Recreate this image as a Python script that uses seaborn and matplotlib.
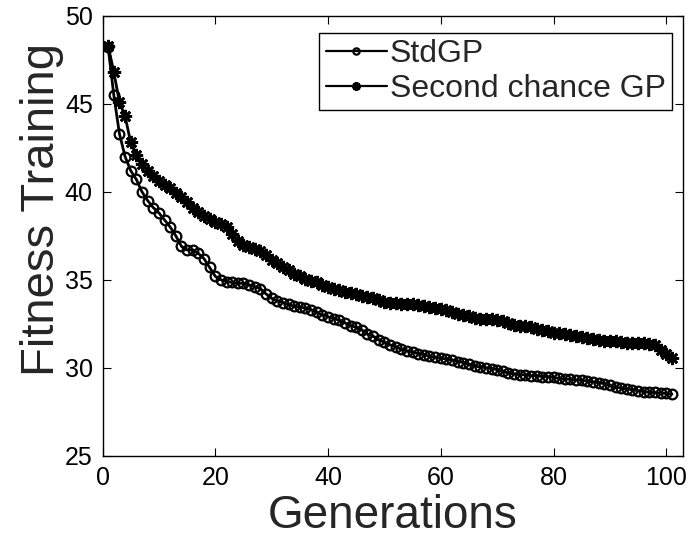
import matplotlib
matplotlib.use("Agg")
import matplotlib.pyplot as plt
import seaborn as sns
import pandas as pd

generations = list(range(1, 102))

std_gp = [
    48.2, 45.5, 43.3, 42.0, 41.2, 40.7, 40.0, 39.5, 39.1, 38.8,
    38.4, 38.0, 37.5, 36.9, 36.7, 36.7, 36.5, 36.2, 35.7, 35.2,
    35.0, 34.9, 34.85, 34.8, 34.8, 34.7, 34.6, 34.5, 34.2, 33.95,
    33.8, 33.7, 33.6, 33.5, 33.45, 33.4, 33.3, 33.15, 33.0, 32.9,
    32.8, 32.7, 32.55, 32.4, 32.3, 32.15, 31.9, 31.8, 31.6, 31.45,
    31.3, 31.2, 31.05, 30.95, 30.9, 30.8, 30.75, 30.65, 30.6, 30.55,
    30.5, 30.45, 30.35, 30.3, 30.2, 30.1, 30.05, 30.0, 29.95, 29.9,
    29.8, 29.7, 29.65, 29.6, 29.6, 29.55, 29.55, 29.5, 29.5, 29.45,
    29.4, 29.35, 29.35, 29.3, 29.3, 29.25, 29.2, 29.15, 29.1, 29.0,
    28.9, 28.85, 28.8, 28.75, 28.7, 28.65, 28.6, 28.6, 28.55, 28.55,
    28.5,
]

second_chance_gp = [
    48.3, 46.8, 45.1, 44.3, 42.8, 42.1, 41.6, 41.2, 40.9, 40.6,
    40.4, 40.2, 39.95, 39.7, 39.4, 39.1, 38.85, 38.6, 38.45, 38.3,
    38.15, 38.0, 37.6, 37.2, 36.95, 36.85, 36.75, 36.65, 36.4, 36.15,
    35.95, 35.75, 35.55, 35.35, 35.2, 35.05, 34.95, 34.85, 34.7, 34.6,
    34.5, 34.4, 34.3, 34.25, 34.2, 34.1, 34.0, 33.95, 33.85, 33.75,
    33.7, 33.7, 33.65, 33.65, 33.6, 33.55, 33.5, 33.45, 33.4, 33.35,
    33.3, 33.15, 33.05, 33.0, 32.95, 32.85, 32.8, 32.75, 32.75, 32.7,
    32.65, 32.55, 32.45, 32.4, 32.35, 32.3, 32.2, 32.15, 32.1, 32.0,
    31.95, 31.9, 31.85, 31.8, 31.75, 31.7, 31.65, 31.6, 31.55, 31.5,
    31.5, 31.45, 31.4, 31.4, 31.4, 31.4, 31.35, 31.3, 31.0, 30.8,
    30.55,
]

series_names = ["StdGP", "Second chance GP"]
x_ticks = [0, 20, 40, 60, 80, 100]
y_ticks = [25, 30, 35, 40, 45, 50]

sns.set_style("white")
plt.rcParams["font.family"] = ["Liberation Sans", "DejaVu Sans"]

fig = plt.figure(figsize=(6.88, 5.42), dpi=100)
ax = fig.add_axes([0.149, 0.159, 0.844, 0.812])

df_std = pd.DataFrame({"Generations": generations, "Fitness": std_gp})
df_sc = pd.DataFrame({"Generations": generations, "Fitness": second_chance_gp})

sns.lineplot(data=df_std, x="Generations", y="Fitness", ax=ax, color="black",
             linewidth=2.0, marker="o", markersize=7, markerfacecolor="none",
             markeredgecolor="black", markeredgewidth=1.6, label=series_names[0])
sns.lineplot(data=df_sc, x="Generations", y="Fitness", ax=ax, color="black",
             linewidth=2.0, marker=(8, 2, 0), markersize=9.5,
             markeredgecolor="black", markeredgewidth=1.9, label=series_names[1])

ax.set_xlim(0, 103)
ax.set_ylim(25, 50)
ax.set_xticks(x_ticks)
ax.set_yticks(y_ticks)
ax.tick_params(direction="in", length=6, width=0.8, labelsize=18,
               top=True, right=True, bottom=True, left=True, colors="black")
ax.tick_params(axis="x", pad=7)
ax.tick_params(axis="y", pad=7)
for s in ax.spines.values():
    s.set_visible(True)
    s.set_color("black")
    s.set_linewidth(1.0)

ax.set_xlabel("Generations", fontsize=33, labelpad=3)
ax.set_ylabel("Fitness Training", fontsize=34)
ax.yaxis.set_label_coords(-0.066, 0.56)

leg = ax.legend(loc="upper right", fontsize=23, frameon=True, fancybox=False,
                edgecolor="black", framealpha=1, markerscale=0.65,
                handlelength=1.9, handletextpad=0.1, borderpad=0.2,
                labelspacing=0.15, borderaxespad=0,
                bbox_to_anchor=(0.981, 0.961))
leg.get_frame().set_linewidth(1.0)
for h in leg.legend_handles:
    h.set_linewidth(1.6)

fig.savefig("out.png", dpi=100, facecolor="white")
